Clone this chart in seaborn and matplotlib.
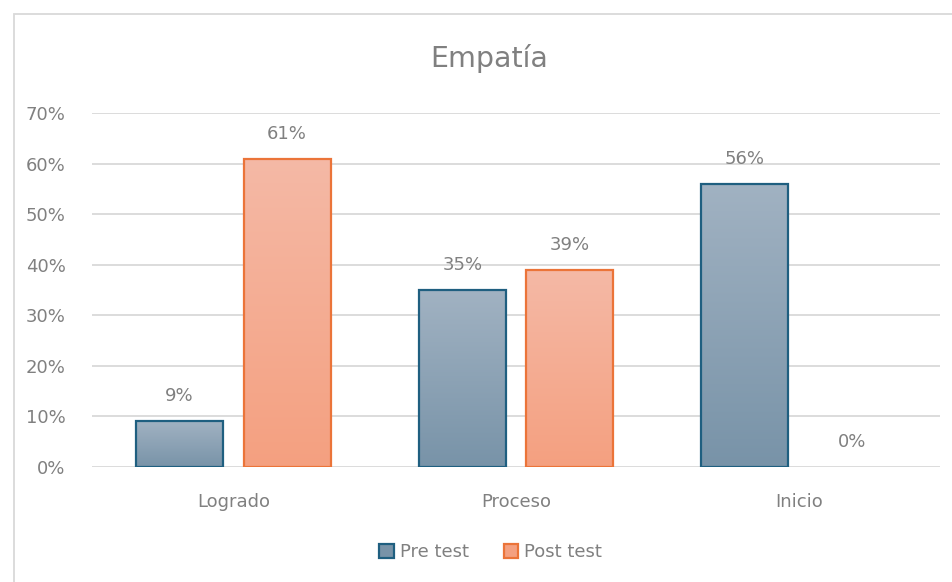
import numpy as np
import pandas as pd
import matplotlib
matplotlib.use('Agg')
import matplotlib.pyplot as plt
from matplotlib.colors import LinearSegmentedColormap
from matplotlib.patches import Patch, Rectangle
import seaborn as sns

categories = ['Logrado', 'Proceso', 'Inicio']
pre_test = [0.09, 0.35, 0.56]
post_test = [0.61, 0.39, 0.00]
series = ['Pre test', 'Post test']
y_ticks = [0.0, 0.1, 0.2, 0.3, 0.4, 0.5, 0.6, 0.7]

edge_colors = {'Pre test': '#1f5f80', 'Post test': '#eb7439'}
grad_colors = {'Pre test': ('#a1b2c2', '#7893a8'),
               'Post test': ('#f5b9a6', '#f4a080')}
text_gray = '#808080'

df = pd.DataFrame({
    'cat': categories * 2,
    'serie': [series[0]] * 3 + [series[1]] * 3,
    'val': pre_test + post_test,
})

sns.set_style('white')
plt.rcParams['font.family'] = ['DejaVu Sans']

fig = plt.figure(figsize=(9.53, 5.82), dpi=100)
ax = fig.add_axes([0.0965, 0.1976, 0.8899, 0.6082])

sns.barplot(data=df, x='cat', y='val', hue='serie', hue_order=series,
            width=0.76, gap=0.19, ax=ax, legend=False, zorder=3)

ax.set_ylim(0, 0.7)
ax.set_xlim(-0.5, 2.5)

# per-bar vertical gradient, Excel style
grad = np.linspace(1, 0, 256).reshape(-1, 1)
for container, name in zip(ax.containers, series):
    cmap = LinearSegmentedColormap.from_list(name, [grad_colors[name][1], grad_colors[name][0]])
    for patch, val in zip(container.patches, df[df.serie == name].val):
        patch.set_facecolor('none')
        patch.set_edgecolor(edge_colors[name])
        patch.set_linewidth(1.6)
        x, y = patch.get_x(), patch.get_y()
        w, h = patch.get_width(), patch.get_height()
        if h > 0:
            im = ax.imshow(grad, cmap=cmap, extent=[x, x + w, y, y + h],
                           aspect='auto', zorder=2.5, interpolation='bicubic')
            im.set_clip_path(patch)
        else:
            patch.set_linewidth(0)
        ax.annotate(f'{val * 100:.0f}%', (x + w / 2, y + h), xytext=(0, 18),
                    textcoords='offset points', ha='center', va='center',
                    fontsize=13, color=text_gray)

ax.set_xlim(-0.5, 2.5)
ax.set_ylim(0, 0.7)
ax.set_yticks(y_ticks)
ax.set_yticklabels([f'{t * 100:.0f}%' for t in y_ticks])
ax.yaxis.grid(True, color='#d9d9d9', linewidth=1.3, zorder=0)
ax.set_axisbelow(True)
ax.tick_params(axis='both', length=0, labelsize=13, labelcolor=text_gray)
ax.tick_params(axis='y', pad=19)
ax.tick_params(axis='x', pad=19)
ax.set_xlabel('')
ax.set_ylabel('')
sns.despine(ax=ax, left=True, bottom=True)

fig.text(0.513, 0.90, 'Empatía', ha='center', va='center', fontsize=20.5, color=text_gray)

handles = [Patch(facecolor=grad_colors[s][1], edgecolor=edge_colors[s], linewidth=1.6, label=s)
           for s in series]
fig.legend(handles=handles, loc='center', bbox_to_anchor=(0.515, 0.0515), ncol=2,
           frameon=False, fontsize=13, labelcolor=text_gray, handlelength=0.8,
           handleheight=0.8, handletextpad=0.35, columnspacing=1.9)

fig.add_artist(Rectangle((14 / 953, -0.1), 1.2, 1 - 14 / 582 + 0.1, transform=fig.transFigure,
                         fill=False, edgecolor='#d9d9d9', linewidth=1.3))

fig.savefig('out.png', dpi=100)
